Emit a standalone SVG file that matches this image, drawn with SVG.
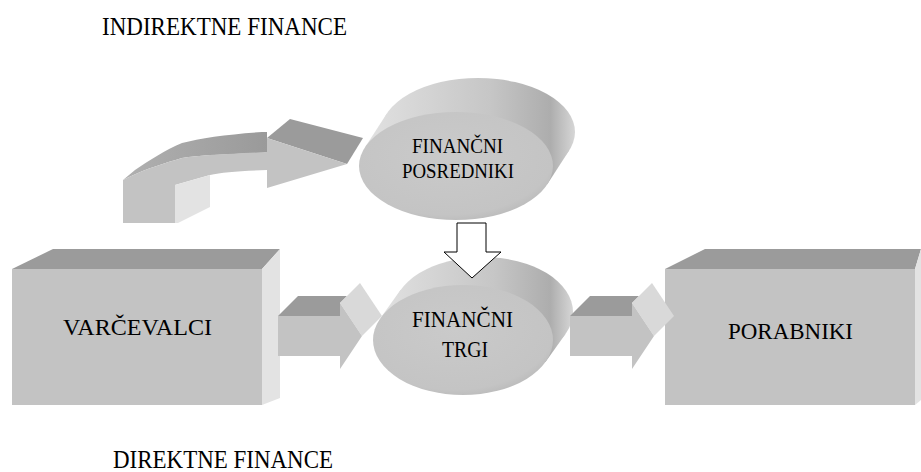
<svg xmlns="http://www.w3.org/2000/svg" width="921" height="472" viewBox="0 0 921 472">
<defs>
<style>
text{font-family:'Liberation Serif','DejaVu Serif',serif;fill:#000}
.front{fill:#c3c3c3}
.top{fill:#9b9b9b}
.side{fill:#e3e3e3}
.light{fill:#d9d9d9}
.hollow{fill:#fff;stroke:#000;stroke-width:1}
</style>
<linearGradient id="extA" gradientUnits="userSpaceOnUse" x1="362" y1="0" x2="576" y2="0">
<stop offset="0" stop-color="#e2e2e2"/><stop offset="0.6" stop-color="#c6c6c6"/><stop offset="0.88" stop-color="#adadad"/><stop offset="1" stop-color="#d8d8d8"/>
</linearGradient>
<linearGradient id="extB" gradientUnits="userSpaceOnUse" x1="375" y1="0" x2="574" y2="0">
<stop offset="0" stop-color="#e2e2e2"/><stop offset="0.6" stop-color="#c6c6c6"/><stop offset="0.88" stop-color="#adadad"/><stop offset="1" stop-color="#d8d8d8"/>
</linearGradient>
<radialGradient id="face" cx="0.45" cy="0.4" r="0.65">
<stop offset="0" stop-color="#cacaca"/><stop offset="0.85" stop-color="#c4c4c4"/><stop offset="1" stop-color="#b8b8b8"/>
</radialGradient>
<linearGradient id="curveTop" x1="0" y1="0" x2="1" y2="0">
<stop offset="0" stop-color="#b0b0b0"/><stop offset="1" stop-color="#9a9a9a"/>
</linearGradient>
</defs>

<text id="title-indirect" font-family="Liberation Serif, DejaVu Serif, serif" x="102" y="35" font-size="25" textLength="245" lengthAdjust="spacingAndGlyphs">INDIREKTNE FINANCE</text>
<text id="title-direct" font-family="Liberation Serif, DejaVu Serif, serif" x="113" y="468" font-size="25" textLength="220" lengthAdjust="spacingAndGlyphs">DIREKTNE FINANCE</text>

<g id="node-varcevalci">
<polygon class="top" points="12,269 53,249 280,249 262,269"/>
<polygon class="side" points="262,269 280,249 280,398 262,405"/>
<rect class="front" x="12" y="269" width="250" height="136"/>
<text font-family="Liberation Serif, DejaVu Serif, serif" x="63" y="335" font-size="23" textLength="149" lengthAdjust="spacingAndGlyphs">VARČEVALCI</text>
</g>

<g id="node-porabniki">
<polygon class="top" points="665,269 705,249 921,249 915,269"/>
<polygon class="side" points="915,269 921,249 921,400 915,405"/>
<rect class="front" x="665" y="269" width="250" height="136"/>
<text font-family="Liberation Serif, DejaVu Serif, serif" x="728" y="339" font-size="23" textLength="125" lengthAdjust="spacingAndGlyphs">PORABNIKI</text>
</g>

<g id="node-posredniki">
<ellipse cx="478" cy="132" rx="97" ry="54" fill="url(#extA)"/>
<polygon points="547.3,184.3 569.3,150.3 386.7,113.7 364.7,147.7" fill="url(#extA)"/>
<ellipse cx="456" cy="166" rx="97" ry="54" fill="url(#face)"/>
<text font-family="Liberation Serif, DejaVu Serif, serif" x="412" y="153" font-size="21" textLength="91" lengthAdjust="spacingAndGlyphs">FINANČNI</text>
<text font-family="Liberation Serif, DejaVu Serif, serif" x="402" y="178" font-size="21" textLength="112" lengthAdjust="spacingAndGlyphs">POSREDNIKI</text>
</g>

<g id="node-trgi">
<ellipse cx="483" cy="312" rx="90" ry="55" fill="url(#extB)"/>
<polygon points="545.5,362 565.5,334 400.5,290 380.5,318" fill="url(#extB)"/>
<ellipse cx="463" cy="340" rx="90" ry="55" fill="url(#face)"/>
<text font-family="Liberation Serif, DejaVu Serif, serif" x="412" y="327" font-size="23" textLength="101" lengthAdjust="spacingAndGlyphs">FINANČNI</text>
<text font-family="Liberation Serif, DejaVu Serif, serif" x="442" y="357" font-size="23" textLength="46" lengthAdjust="spacingAndGlyphs">TRGI</text>
</g>

<g id="connectors">
<g id="arrow-curved">
<path fill="url(#curveTop)" d="M123,180 L135,170 C150,160 165,150 182,143 C200,138 230,134 262,132 L267,132 L267,152 L262,153 C230,154 200,155 182,158 C165,163 148,168 127,178 Z"/>
<polygon class="top" points="267,138 290,119 363,138 347,164"/>
<path class="front" d="M123,223 L123,180 L127,178 C148,168 165,163 182,158 C200,155 230,154 267,152 L267,138 L347,164 L267,188 L267,170 C240,171 222,172 210,175 L175,185 L175,223 Z"/>
<polygon class="side" points="175,185 210,175 210,207 178,223 175,223"/>
</g>
<g id="arrow-left">
<polygon class="top" points="278,316 298,296 347,296 340,303 340,316"/>
<polygon class="light" points="340,303 360,283 382,316 362,336"/>
<polygon class="front" points="278,316 340,316 340,303 362,336 340,369 340,356 278,356"/>
</g>
<g id="arrow-right">
<polygon class="top" points="570,316 590,296 639,296 632,303 632,316"/>
<polygon class="light" points="632,303 652,283 674,316 654,336"/>
<polygon class="front" points="570,316 632,316 632,303 654,336 632,369 632,356 570,356"/>
</g>
<polygon id="arrow-down" class="hollow" points="457,223 486,223 486,252 501,252 472,278 444,252 457,252"/>
</g>
</svg>
